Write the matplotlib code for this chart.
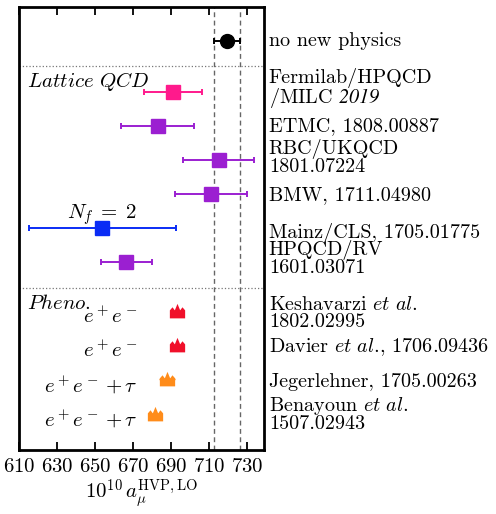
import numpy as np
import matplotlib
matplotlib.use('Agg')
import matplotlib.pyplot as plt
from matplotlib.path import Path

plt.rcParams['font.family'] = 'cmr10'
plt.rcParams['mathtext.fontset'] = 'cm'
# the 'custom' math set is only used for the italic year below
plt.rcParams['mathtext.rm'] = 'STIXGeneral:italic'
plt.rcParams['axes.formatter.use_mathtext'] = True

# no new physics
nnp_val = 719.7
nnp_err = 6.8

# lattice results
lat_val = [691.0, 683.0, 715.2, 711.0, 654.0, 666.5]
lat_err = [15.2, 19.0, 18.7, 19.0, 38.5, 13.4]
lat_col = ['#ff1a8c', '#9b1fd1', '#9b1fd1', '#9b1fd1', '#0a2cf5', '#9b1fd1']
lat_y = [1.5, 2.5, 3.5, 4.5, 5.5, 6.5]

# dispersive / pheno results
phe_val = [693.3, 693.1, 688.1, 681.9]
phe_err = [2.5, 3.4, 4.1, 3.2]
phe_col = ['#f0102a', '#f0102a', '#ff8c1a', '#ff8c1a']
phe_y = [8.0, 9.0, 10.0, 11.0]
phe_txt = [r'$e^+e^-$', r'$e^+e^-$', r'$e^+e^- + \tau$', r'$e^+e^- + \tau$']

row_labels = ['no new physics',
              'Fermilab/HPQCD\n/MILC $\\mathrm{2019}$',
              'ETMC, 1808.00887',
              'RBC/UKQCD\n1801.07224',
              'BMW, 1711.04980',
              'Mainz/CLS, 1705.01775',
              'HPQCD/RV\n1601.03071',
              'Keshavarzi $\\mathit{et\\ al.}$\n1802.02995',
              'Davier $\\mathit{et\\ al.}\\!$, 1706.09436',
              'Jegerlehner, 1705.00263',
              'Benayoun $\\mathit{et\\ al.}$\n1507.02943']
label_y = [0.0, 1.42, 2.5, 3.43, 4.53, 5.65, 6.38, 8.0, 8.99, 10.02, 10.94]

# crown shaped marker for the pheno points
crown = Path([(-1, -0.9), (1, -0.9), (1, 0.15), (0.65, 0.55), (0.35, 0.15),
              (0, 1.0), (-0.35, 0.15), (-0.65, 0.55), (-1, 0.15), (-1, -0.9)],
             [Path.MOVETO] + [Path.LINETO] * 8 + [Path.CLOSEPOLY])

fig = plt.figure(figsize=(4.96, 5.14), dpi=100)
ax = fig.add_axes([0.038, 0.1245, 0.494, 0.8625])

ax.axvline(nnp_val - nnp_err, color='#666666', ls=(0, (3.5, 2.5)), lw=1.0)
ax.axvline(nnp_val + nnp_err, color='#666666', ls=(0, (3.5, 2.5)), lw=1.0)
ax.axhline(0.75, color='#777777', ls=':', lw=0.9)
ax.axhline(7.25, color='#777777', ls=':', lw=0.9)

ax.errorbar(nnp_val, 0, xerr=nnp_err, fmt='o', color='black', ms=10,
            capsize=2.5, capthick=1.4, elinewidth=1.4)

for v, e, c, y in zip(lat_val, lat_err, lat_col, lat_y):
    ax.errorbar(v, y, xerr=e, fmt='s', color=c, ms=10.5, capsize=2.5,
                capthick=1.4, elinewidth=1.4)

for v, e, c, y, t in zip(phe_val, phe_err, phe_col, phe_y, phe_txt):
    ax.errorbar(v, y - 0.07, xerr=e, fmt='none', ecolor=c, elinewidth=1.0)
    ax.plot(v, y - 0.07, marker=crown, color=c, ms=11, mew=0, ls='none')
    ax.text(672.5, y + 0.08, t, fontsize=15, ha='right', va='center')

ax.text(614.3, 1.2, r'$\mathit{Lattice\ QCD}$', fontsize=15, va='center')
ax.text(614.3, 7.7, r'$\mathit{Pheno.}$', fontsize=15, va='center')
ax.text(654, 5.45, r'$N_f \;=\; 2$', fontsize=15, ha='center', va='bottom')

yt = ax.get_yaxis_transform()
for lab, y in zip(row_labels, label_y):
    mf = 'custom' if '2019' in lab else 'cm'
    ax.text(1.02, y, lab, transform=yt, fontsize=14.5, math_fontfamily=mf,
            ha='left', va='center', linespacing=0.9, clip_on=False)

ax.set_xlim(610, 739)
ax.set_ylim(12, -1)
ax.set_xticks(np.arange(610, 731, 20))
ax.set_yticks([])
ax.tick_params(axis='x', direction='in', top=True, length=6, width=1.3,
               labelsize=15, pad=6)
for s in ax.spines.values():
    s.set_linewidth(2)
ax.set_xlabel(r'$10^{10}\,a_\mu^{\rm HVP,LO}$', fontsize=15, labelpad=1)

fig.savefig('out.png', dpi=100)
